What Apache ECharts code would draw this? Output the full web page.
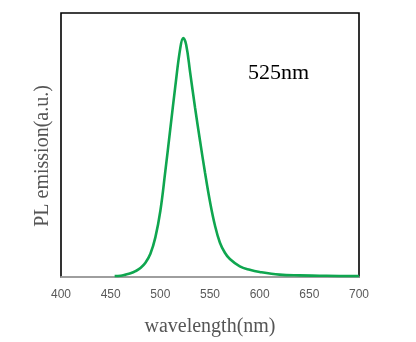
<!DOCTYPE html>
<html><head><meta charset="utf-8">
<script src="https://cdn.jsdelivr.net/npm/echarts@6/dist/echarts.min.js"></script>
<style>html,body{margin:0;padding:0;background:#fff}#c{width:416px;height:342px}</style>
</head><body><div id="c"></div>
<script>
const wavelengths = [454,460,465,470,475,480,485,490,495,500,505,510,515,520,523,526,530,535,540,545,550,555,560,565,570,580,590,600,620,640,660,680,700];
const intensity = [0.004,0.005,0.009,0.014,0.022,0.034,0.054,0.088,0.15,0.25,0.40,0.56,0.72,0.865,0.905,0.88,0.775,0.64,0.515,0.395,0.285,0.195,0.13,0.092,0.068,0.04,0.027,0.019,0.009,0.006,0.005,0.004,0.004];
const xTicks = [400,450,500,550,600,650,700];
const peakLabel = '525nm';
const yTitle = 'PL emission(a.u.)';

const chart = echarts.init(document.getElementById('c'), null, {renderer:'canvas'});
chart.setOption({
  animation:false,
  grid:{left:61,right:57,top:13,bottom:64,show:true,borderColor:'#000',borderWidth:1.6,backgroundColor:'transparent'},
  xAxis:{type:'value',min:xTicks[0],max:xTicks[xTicks.length-1],interval:50,
    name:'wavelength(nm)',nameLocation:'middle',nameGap:40,
    nameTextStyle:{fontFamily:'Liberation Serif',fontSize:20,color:'#555'},
    axisLine:{show:true,lineStyle:{color:'#bfbfbf',width:1.6}},
    axisTick:{show:false},splitLine:{show:false},
    axisLabel:{fontFamily:'Liberation Sans',fontSize:12,color:'#595959',margin:12}},
  yAxis:{type:'value',min:0,max:1,
    axisLine:{show:false},axisTick:{show:false},axisLabel:{show:false},splitLine:{show:false}},
  graphic:[
    {type:'text',left:248,top:62,style:{text:peakLabel,font:'22px "Liberation Serif"',fill:'#000'}},
    {type:'text',x:43,y:156,rotation:Math.PI/2,style:{text:yTitle,font:'20px "Liberation Serif"',fill:'#555',align:'center',verticalAlign:'middle'}}
  ],
  series:[{type:'line',data:wavelengths.map((w,i)=>[w,intensity[i]]),smooth:0.4,showSymbol:false,
    lineStyle:{color:'#0fa64f',width:2.6}}]
});
</script></body></html>
